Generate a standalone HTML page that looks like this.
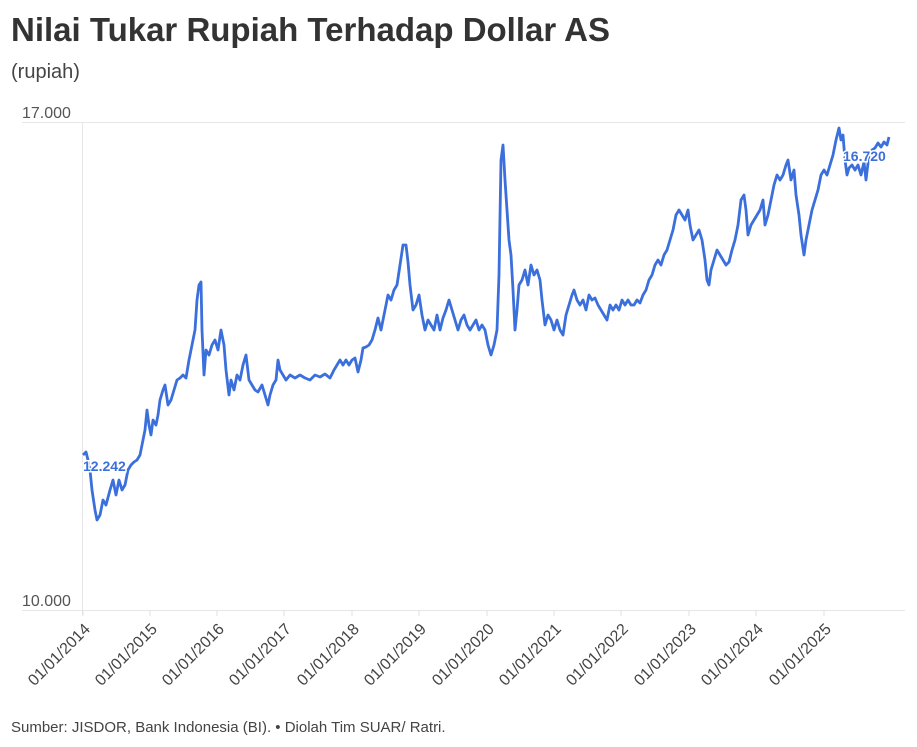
<!DOCTYPE html>
<html><head><meta charset="utf-8"><style>
body{margin:0;background:#fff;width:917px;height:742px;overflow:hidden;font-family:"Liberation Sans",sans-serif}
</style></head><body>
<svg width="917" height="742" xmlns="http://www.w3.org/2000/svg" font-family="Liberation Sans, sans-serif">
<text x="11" y="41" font-size="33" font-weight="bold" fill="#333">Nilai Tukar Rupiah Terhadap Dollar AS</text>
<text x="11" y="78" font-size="20" fill="#444">(rupiah)</text>
<line x1="22" y1="122.5" x2="905" y2="122.5" stroke="#e6e6e6"/>
<line x1="22" y1="610.5" x2="905" y2="610.5" stroke="#e6e6e6"/>
<line x1="82.5" y1="122" x2="82.5" y2="615" stroke="#e6e6e6"/>
<text x="22" y="118" font-size="16" fill="#555">17.000</text>
<text x="22" y="606" font-size="16" fill="#555">10.000</text>
<g stroke="#e0e0e0">
<line x1="83" y1="610" x2="83" y2="616"/><line x1="150" y1="610" x2="150" y2="616"/><line x1="217" y1="610" x2="217" y2="616"/><line x1="284" y1="610" x2="284" y2="616"/><line x1="352" y1="610" x2="352" y2="616"/><line x1="419" y1="610" x2="419" y2="616"/><line x1="487" y1="610" x2="487" y2="616"/><line x1="554" y1="610" x2="554" y2="616"/><line x1="621" y1="610" x2="621" y2="616"/><line x1="689" y1="610" x2="689" y2="616"/><line x1="756" y1="610" x2="756" y2="616"/><line x1="824" y1="610" x2="824" y2="616"/>
</g>
<g font-size="16" fill="#444" text-anchor="end">
<text transform="translate(91,630) rotate(-45)">01/01/2014</text>
<text transform="translate(158,630) rotate(-45)">01/01/2015</text>
<text transform="translate(225,630) rotate(-45)">01/01/2016</text>
<text transform="translate(292,630) rotate(-45)">01/01/2017</text>
<text transform="translate(360,630) rotate(-45)">01/01/2018</text>
<text transform="translate(427,630) rotate(-45)">01/01/2019</text>
<text transform="translate(495,630) rotate(-45)">01/01/2020</text>
<text transform="translate(562,630) rotate(-45)">01/01/2021</text>
<text transform="translate(629,630) rotate(-45)">01/01/2022</text>
<text transform="translate(697,630) rotate(-45)">01/01/2023</text>
<text transform="translate(764,630) rotate(-45)">01/01/2024</text>
<text transform="translate(832,630) rotate(-45)">01/01/2025</text>
</g>
<polyline fill="none" stroke="#3a6fdc" stroke-width="2.8" stroke-linejoin="round" points="83,455 86,452 88,460 90,470 92,490 95,510 97,520 100,515 103,500 106,505 110,490 113,480 116,495 119,480 122,490 125,485 128,470 131,465 134,462 137,460 140,455 143,440 145,430 147,410 149,425 151,435 153,420 156,425 158,415 160,400 163,390 165,385 168,405 171,400 174,390 177,380 180,378 183,375 186,378 189,360 192,345 195,330 197,300 199,285 201,282 202,330 204,375 206,350 209,355 212,345 215,340 218,350 221,330 224,345 226,370 229,395 231,380 234,390 237,375 240,380 243,365 246,355 249,380 252,385 255,390 258,392 262,385 265,395 268,405 270,395 273,385 276,380 278,360 280,370 283,375 286,380 290,375 295,378 300,375 305,378 310,380 315,375 320,377 325,374 330,378 334,370 337,365 340,360 343,365 346,360 349,365 352,360 355,358 358,372 361,360 363,348 366,347 369,345 372,340 375,330 378,318 381,330 384,315 386,305 388,295 391,300 394,290 397,285 400,265 403,245 406,245 408,262 410,285 413,310 416,305 419,295 422,315 425,330 428,320 431,325 434,330 437,315 440,330 443,318 446,310 449,300 452,310 455,320 458,330 461,320 464,315 467,325 470,330 473,325 476,320 479,330 482,325 485,330 488,345 491,355 494,345 497,330 499,275 501,160 503,145 505,180 507,210 509,240 511,255 513,290 515,330 517,310 519,285 522,280 525,270 528,285 531,265 534,275 537,270 540,280 542,300 545,325 548,315 551,320 554,330 557,320 560,330 563,335 566,315 569,305 572,295 574,290 577,300 580,305 583,300 586,310 589,295 592,300 595,298 598,305 601,310 604,315 607,320 610,305 613,310 616,305 619,310 622,300 625,305 628,300 631,305 634,305 637,300 640,303 643,295 646,290 649,280 652,275 655,265 658,260 661,265 664,255 667,250 670,240 673,230 676,215 679,210 682,215 685,220 688,210 690,225 693,240 696,235 699,230 702,240 705,260 707,280 709,285 711,270 714,260 717,250 720,255 723,260 726,265 729,262 732,250 735,240 738,225 741,200 744,195 746,210 748,235 751,225 754,220 757,215 760,210 763,200 765,225 768,215 771,200 774,185 777,175 780,180 783,175 786,165 788,160 791,180 794,170 796,195 799,215 801,235 804,255 806,240 809,225 812,210 815,200 818,190 821,175 824,170 827,175 830,165 833,155 836,140 839,128 841,140 843,135 845,160 847,175 849,168 852,165 855,170 858,165 861,175 864,162 866,180 869,155 872,150 875,148 878,143 881,147 884,142 887,145 889,137"/>
<g font-size="14" font-weight="bold" fill="#3a6fdc" stroke="#fff" stroke-width="3" paint-order="stroke">
<text x="83" y="471">12.242</text>
<text x="843" y="161">16.720</text>
</g>
<text x="11" y="732" font-size="15" fill="#444">Sumber: JISDOR, Bank Indonesia (BI). • Diolah Tim SUAR/ Ratri.</text>
</svg>
</body></html>
